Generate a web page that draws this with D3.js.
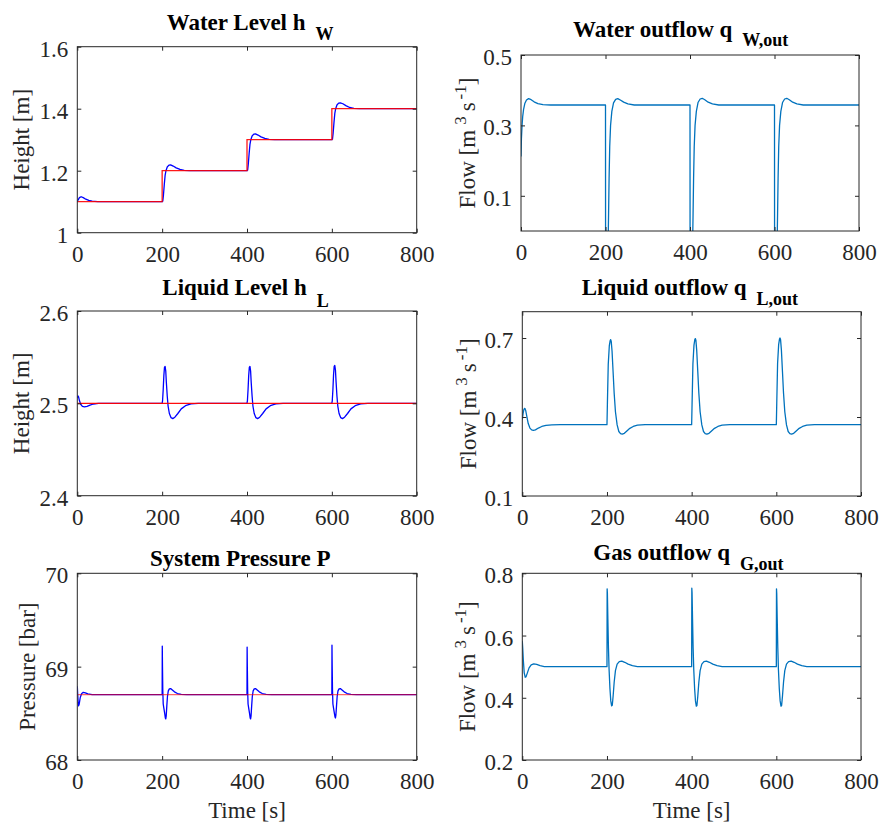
<!DOCTYPE html>
<html>
<head>
<meta charset="utf-8">
<script src="https://cdn.jsdelivr.net/npm/d3@7"></script>
<style>
  html, body { margin: 0; padding: 0; background: #ffffff; }
  svg { display: block; }
  text { font-family: "Liberation Serif", "Times New Roman", serif; }
</style>
</head>
<body>
<svg id="chart" width="880" height="824"></svg>
<script>
// ---------------- DATA ----------------
const timeTicks = [0, 200, 400, 600, 800];
const timeTickLabels = ["0", "200", "400", "600", "800"];

// Water level h_W (measured, blue) : [time s, height m]
const waterLevel = [
  [0,1.100],[2,1.106],[5,1.113],[9,1.116],[14,1.113],[20,1.108],[27,1.104],[35,1.102],[48,1.100],[60,1.100],
  [200,1.100],[201.5,1.102],[203,1.120],[205,1.155],[207,1.185],[209,1.200],[212,1.212],[216,1.218],[220,1.219],[226,1.215],[233,1.209],[242,1.204],[252,1.201],[265,1.200],
  [400,1.200],[401.5,1.202],[403,1.220],[405,1.255],[407,1.285],[409,1.300],[412,1.312],[416,1.318],[420,1.319],[426,1.315],[433,1.309],[442,1.304],[452,1.301],[465,1.300],
  [600,1.300],[601.5,1.302],[603,1.320],[605,1.355],[607,1.385],[609,1.400],[612,1.412],[616,1.418],[620,1.419],[626,1.416],[633,1.410],[642,1.404],[652,1.401],[665,1.400],[800,1.400]
];
// Water level set-point (red, step after each time)
const waterLevelSetTimes = [0, 200, 400, 600, 800];
const waterLevelSetValues = [1.1, 1.2, 1.3, 1.4, 1.4];

// Water outflow q_W,out
const waterOutflow = [
  [0,0.212],[1,0.262],[2.5,0.300],[4,0.325],[6,0.345],[9,0.362],[13,0.372],[18,0.376],[24,0.373],[31,0.367],[40,0.362],[52,0.359],[70,0.358],
  [200,0.358],[200.2,-0.05],[206,-0.05],[207.3,0.05],[208.5,0.15],[210,0.24],[212,0.300],[215,0.340],[219,0.364],[224,0.374],[229,0.376],[235,0.372],[243,0.366],[253,0.361],[268,0.358],
  [400,0.358],[400.2,-0.05],[406,-0.05],[407.3,0.05],[408.5,0.15],[410,0.24],[412,0.300],[415,0.340],[419,0.365],[424,0.375],[429,0.377],[435,0.373],[443,0.366],[453,0.361],[468,0.358],
  [600,0.358],[600.2,-0.05],[606,-0.05],[607.3,0.05],[608.5,0.15],[610,0.24],[612,0.300],[615,0.340],[619,0.365],[624,0.375],[629,0.377],[635,0.373],[643,0.366],[653,0.361],[668,0.358],[800,0.358]
];

// Liquid level h_L (blue)
const liquidLevel = [
  [0,2.506],[1.5,2.508],[3,2.507],[5,2.503],[8,2.499],[12,2.4968],[17,2.4962],[23,2.4967],[30,2.498],[38,2.4993],[50,2.500],
  [200,2.500],[201,2.503],[202.5,2.515],[204,2.530],[205.5,2.539],[207,2.540],[208.5,2.535],[210,2.522],[212,2.508],[214,2.497],[217,2.489],[221,2.4845],[225,2.4835],[230,2.485],[237,2.489],[245,2.494],[255,2.4975],[268,2.4995],[285,2.500],
  [400,2.500],[401,2.503],[402.5,2.515],[404,2.530],[405.5,2.539],[407,2.540],[408.5,2.535],[410,2.522],[412,2.508],[414,2.497],[417,2.489],[421,2.4845],[425,2.4835],[430,2.485],[437,2.489],[445,2.494],[455,2.4975],[468,2.4995],[485,2.500],
  [600,2.500],[601,2.503],[602.5,2.515],[604,2.531],[605.5,2.540],[607,2.541],[608.5,2.536],[610,2.523],[612,2.508],[614,2.497],[617,2.489],[621,2.4845],[625,2.4835],[630,2.485],[637,2.489],[645,2.494],[655,2.4975],[668,2.4995],[685,2.500],[800,2.500]
];
const liquidLevelSetTimes = [0, 800];
const liquidLevelSetValues = [2.5, 2.5];

// Liquid outflow q_L,out
const liquidOutflow = [
  [0,0.390],[2,0.415],[4,0.430],[6,0.433],[8,0.425],[11,0.400],[14,0.375],[18,0.358],[22,0.351],[26,0.349],[31,0.351],[38,0.358],[46,0.364],[56,0.368],[70,0.370],[90,0.371],
  [200,0.371],[201,0.450],[203,0.600],[205.5,0.670],[207.5,0.690],[208.7,0.694],[210,0.688],[212,0.650],[214.5,0.570],[217,0.490],[220,0.420],[224,0.370],[228,0.345],[232,0.337],[236,0.335],[241,0.338],[247,0.347],[254,0.357],[262,0.364],[272,0.369],[290,0.371],
  [400,0.371],[401,0.450],[403,0.602],[405.5,0.673],[407.5,0.694],[408.7,0.698],[410,0.692],[412,0.652],[414.5,0.572],[417,0.490],[420,0.420],[424,0.370],[428,0.345],[432,0.337],[436,0.335],[441,0.338],[447,0.347],[454,0.357],[462,0.364],[472,0.369],[490,0.371],
  [600,0.371],[601,0.450],[603,0.604],[605.5,0.675],[607.5,0.696],[608.7,0.700],[610,0.694],[612,0.654],[614.5,0.573],[617,0.491],[620,0.420],[624,0.370],[628,0.345],[632,0.337],[636,0.335],[641,0.338],[647,0.347],[654,0.357],[662,0.364],[672,0.369],[690,0.371],[800,0.371]
];

// System pressure P (blue)
const pressure = [
  [0,68.79],[1,68.70],[2,68.62],[3,68.58],[4.5,68.60],[7,68.67],[10,68.71],[14,68.725],[19,68.72],[25,68.708],[35,68.70],
  [200,68.70],[200.3,69.22],[200.8,69.00],[201.5,68.75],[202.5,68.60],[204,68.555],[206,68.50],[207.5,68.45],[208.5,68.44],[209.5,68.47],[211,68.58],[212.5,68.68],[214.5,68.74],[217,68.762],[220,68.765],[224,68.75],[229,68.73],[236,68.712],[245,68.703],[258,68.70],
  [400,68.70],[400.3,69.21],[400.8,68.99],[401.5,68.75],[402.5,68.60],[404,68.555],[406,68.50],[407.5,68.45],[408.5,68.44],[409.5,68.47],[411,68.58],[412.5,68.68],[414.5,68.74],[417,68.762],[420,68.765],[424,68.75],[429,68.73],[436,68.712],[445,68.703],[458,68.70],
  [600,68.70],[600.3,69.23],[600.8,69.01],[601.5,68.75],[602.5,68.60],[604,68.555],[606,68.50],[607.5,68.46],[608.5,68.45],[609.5,68.48],[611,68.58],[612.5,68.68],[614.5,68.74],[617,68.762],[620,68.765],[624,68.75],[629,68.73],[636,68.712],[645,68.703],[658,68.70],[800,68.70]
];
const pressureSetTimes = [0, 800];
const pressureSetValues = [68.7, 68.7];

// Gas outflow q_G,out
const gasOutflow = [
  [0,0.582],[1,0.560],[2.5,0.520],[4.5,0.480],[7,0.466],[9,0.468],[12,0.480],[16,0.496],[21,0.506],[27,0.509],[34,0.507],[42,0.503],[52,0.500],[65,0.500],
  [200,0.500],[200.4,0.750],[201,0.735],[202,0.660],[203.5,0.560],[205,0.490],[207,0.430],[209,0.390],[211,0.374],[212.5,0.376],[214.5,0.405],[217,0.450],[220,0.487],[224,0.508],[229,0.516],[235,0.518],[242,0.514],[250,0.508],[260,0.503],[272,0.500],[290,0.500],
  [400,0.500],[400.4,0.752],[401,0.737],[402,0.660],[403.5,0.560],[405,0.490],[407,0.430],[409,0.390],[411,0.373],[412.5,0.375],[414.5,0.405],[417,0.450],[420,0.487],[424,0.508],[429,0.516],[435,0.518],[442,0.514],[450,0.508],[460,0.503],[472,0.500],[490,0.500],
  [600,0.500],[600.4,0.750],[601,0.735],[602,0.660],[603.5,0.560],[605,0.490],[607,0.430],[609,0.390],[611,0.373],[612.5,0.375],[614.5,0.405],[617,0.450],[620,0.487],[624,0.508],[629,0.516],[635,0.518],[642,0.514],[650,0.508],[660,0.503],[672,0.500],[800,0.500]
];

// y tick values / labels per panel
const hWTicks = [1, 1.2, 1.4, 1.6],      hWTickLabels = ["1", "1.2", "1.4", "1.6"];
const qWTicks = [0.1, 0.3, 0.5],         qWTickLabels = ["0.1", "0.3", "0.5"];
const hLTicks = [2.4, 2.5, 2.6],         hLTickLabels = ["2.4", "2.5", "2.6"];
const qLTicks = [0.1, 0.4, 0.7],         qLTickLabels = ["0.1", "0.4", "0.7"];
const pTicks  = [68, 69, 70],            pTickLabels  = ["68", "69", "70"];
const qGTicks = [0.2, 0.4, 0.6, 0.8],    qGTickLabels = ["0.2", "0.4", "0.6", "0.8"];

// ---------------- DRAWING ----------------
const svg = d3.select("#chart");
const SERIF = '"Liberation Serif", "Times New Roman", serif';
const AXC = "#262626";
const BLUE = "#0000ff", RED = "#ff0000", MBLUE = "#0072bd";
const FS = 23;

const panels = [
  { id:"p1", box:[77.3,46.7,416.7,232.7], yDom:[1,1.6], yt:hWTicks, ytl:hWTickLabels,
    title:"Water Level h", sub:"W", titleX:166.7, subDy:10.5, titleBase:29.5,
    ylab:"height", ylabX:29.3,
    series:[{data:waterLevel, color:BLUE, w:1.3}],
    setp:{t:waterLevelSetTimes, v:waterLevelSetValues, op:0.9} },
  { id:"p2", box:[521,55,859,231], yDom:[0,0.5], yt:qWTicks, ytl:qWTickLabels,
    title:"Water outflow q", sub:"W,out", titleX:573, subDy:9.5, titleBase:36.7,
    ylab:"flow", ylabX:474.5,
    series:[{data:waterOutflow, color:MBLUE, w:1.3}] },
  { id:"p3", box:[77.3,311,416.7,495.7], yDom:[2.4,2.6], yt:hLTicks, ytl:hLTickLabels,
    title:"Liquid Level h", sub:"L", titleX:162.3, subDy:11.5, titleBase:295,
    ylab:"height", ylabX:29.3,
    series:[{data:liquidLevel, color:BLUE, w:1.3}],
    setp:{t:liquidLevelSetTimes, v:liquidLevelSetValues, op:0.95} },
  { id:"p4", box:[522.3,311.7,861,496], yDom:[0.1,0.8], yt:qLTicks, ytl:qLTickLabels,
    title:"Liquid outflow q", sub:"L,out", titleX:581.7, subDy:9.5, titleBase:295,
    ylab:"flow", ylabX:476,
    series:[{data:liquidOutflow, color:MBLUE, w:1.3}] },
  { id:"p5", box:[77.3,573.3,416.7,760], yDom:[68,70], yt:pTicks, ytl:pTickLabels,
    title:"System Pressure P", sub:null, titleX:150, titleBase:566,
    ylab:"pressure", ylabX:35, xlab:true,
    series:[{data:pressure, color:BLUE, w:1.3}],
    setp:{t:pressureSetTimes, v:pressureSetValues, op:0.6} },
  { id:"p6", box:[522.3,573.3,861,760], yDom:[0.2,0.8], yt:qGTicks, ytl:qGTickLabels,
    title:"Gas outflow q", sub:"G,out", titleX:593.3, subDy:9.5, titleBase:560,
    ylab:"flow", ylabX:475, xlab:true,
    series:[{data:gasOutflow, color:MBLUE, w:1.3}] }
];

panels.forEach(p => {
  const [x0, y0, x1, y1] = p.box;
  const x = d3.scaleLinear().domain([0, 800]).range([x0, x1]);
  const y = d3.scaleLinear().domain(p.yDom).range([y1, y0]);
  const g = svg.append("g");

  svg.append("clipPath").attr("id", "clip-" + p.id)
    .append("rect").attr("x", x0).attr("y", y0).attr("width", x1 - x0).attr("height", y1 - y0);

  const plot = g.append("g").attr("clip-path", `url(#clip-${p.id})`);
  const line = d3.line().x(d => x(d[0])).y(d => y(d[1]));
  p.series.forEach(s => {
    plot.append("path").datum(s.data)
      .attr("fill", "none").attr("stroke", s.color).attr("stroke-width", s.w)
      .attr("stroke-linejoin", "round").attr("d", line);
  });
  if (p.setp) {
    const sp = p.setp.t.map((t, i) => [t, p.setp.v[i]]);
    const stepLine = d3.line().curve(d3.curveStepAfter).x(d => x(d[0])).y(d => y(d[1]));
    plot.append("path").datum(sp)
      .attr("fill", "none").attr("stroke", RED).attr("stroke-width", 1.3)
      .attr("stroke-opacity", p.setp.op).attr("d", stepLine);
  }

  const ax = (gen, tv, tf) => gen.tickValues(tv).tickSizeInner(-4).tickSizeOuter(0).tickFormat(tf);
  const bottom = g.append("g").attr("transform", `translate(0,${y1})`)
    .call(ax(d3.axisBottom(x), timeTicks, (d, i) => timeTickLabels[i]));
  bottom.selectAll("text").attr("y", 29).attr("dy", 0);
  const left = g.append("g").attr("transform", `translate(${x0},0)`)
    .call(ax(d3.axisLeft(y), p.yt, (d, i) => p.ytl[i]));
  left.selectAll("text").attr("x", -9).attr("dy", 0).attr("y", 9.5);
  g.append("g").attr("transform", `translate(0,${y0})`)
    .call(ax(d3.axisTop(x), timeTicks, () => ""));
  g.append("g").attr("transform", `translate(${x1},0)`)
    .call(ax(d3.axisRight(y), p.yt, () => ""));
  g.selectAll(".domain").remove();
  g.selectAll("g[font-family]").attr("font-family", SERIF).attr("font-size", FS);
  g.selectAll(".tick line").attr("stroke", AXC).attr("stroke-width", 1);
  g.selectAll(".tick text").attr("fill", AXC).attr("font-family", SERIF)
    .style("font-family", SERIF).style("font-size", FS + "px");
  g.append("rect").attr("x", x0).attr("y", y0).attr("width", x1 - x0).attr("height", y1 - y0)
    .attr("fill", "none").attr("stroke", AXC).attr("stroke-width", 1);

  // title
  const t = g.append("text").attr("x", p.titleX).attr("y", p.titleBase)
    .attr("text-anchor", "start").attr("font-weight", "bold")
    .attr("fill", "#000").style("font-size", "23px").text(p.title);
  if (p.sub) {
    t.append("tspan").attr("dx", 10).attr("dy", p.subDy)
      .style("font-size", "18px").text(p.sub);
  }

  // y label
  const cy = (y0 + y1) / 2;
  const yl = g.append("text").attr("transform", `translate(${p.ylabX},${cy}) rotate(-90)`)
    .attr("text-anchor", "middle").attr("fill", AXC).style("font-size", FS + "px");
  if (p.ylab === "height") yl.text("Height [m]");
  else if (p.ylab === "pressure") yl.text("Pressure [bar]");
  else {
    yl.append("tspan").text("Flow [m");
    yl.append("tspan").attr("dx", 5).attr("dy", -9).style("font-size", "17px").text("3");
    yl.append("tspan").attr("dx", 5).attr("dy", 9).text("s");
    yl.append("tspan").attr("dx", 3).attr("dy", -9).style("font-size", "17px").text("-1");
    yl.append("tspan").attr("dy", 9).text("]");
  }

  if (p.xlab) {
    g.append("text").attr("x", (x0 + x1) / 2).attr("y", 818).attr("text-anchor", "middle")
      .attr("fill", AXC).style("font-size", FS + "px").text("Time [s]");
  }
});
</script>
</body>
</html>
